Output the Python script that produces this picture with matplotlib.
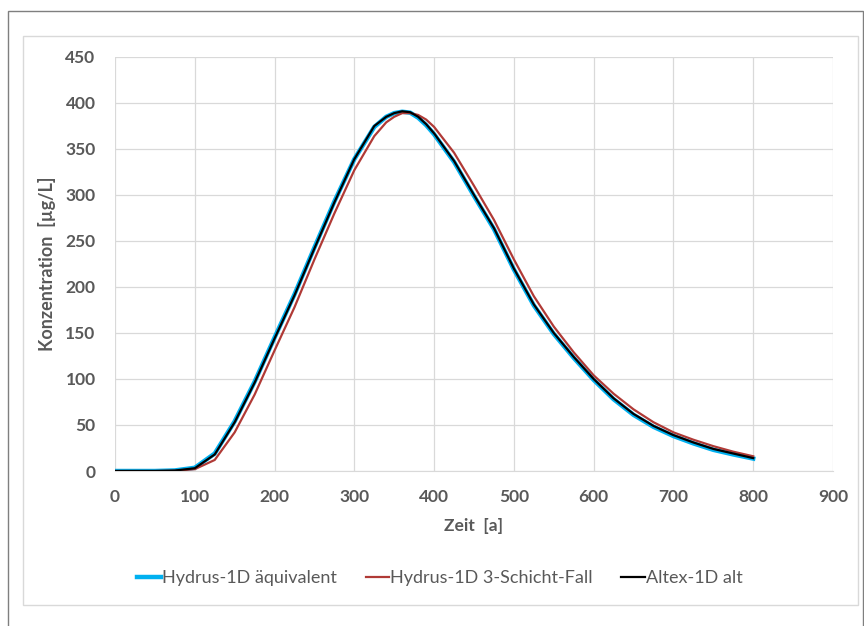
import matplotlib.pyplot as plt
from matplotlib.patches import Rectangle

# time axis [a]
t = [0, 50, 75, 100, 125, 150, 175, 200, 225, 250, 275, 300, 325, 340, 350, 360, 370,
     380, 390, 400, 425, 450, 475, 500, 525, 550, 575, 600, 625, 650, 675, 700, 725,
     750, 775, 800]

# concentrations [ug/L]
altex = [0, 0, 0.5, 3, 18, 53, 96, 144, 191, 242, 292, 339, 375, 385, 389, 391, 390,
         385, 377, 367, 337, 300, 264, 220, 181, 150, 124, 100, 79, 62, 49, 39, 31,
         24, 19, 14]
hydrus_aeq = [0, 0, 0.6, 3.5, 19, 54, 97, 145, 192, 243, 293, 339, 374, 385, 389, 390.5, 389.5,
              384, 376, 366, 336, 299, 263, 219, 180, 149, 123, 99, 78, 61, 48, 38, 30,
              23, 18, 13.5]
hydrus_3s = [0, 0, 0.2, 2, 12, 42, 83, 131, 178, 230, 280, 327, 364, 379, 385, 389, 389,
             387, 382, 374, 346, 310, 273, 230, 190, 157, 129, 104, 84, 67, 53, 42, 34,
             27, 21, 16]

plt.rcParams['font.family'] = ['Lato', 'DejaVu Sans']
grey = '#595959'

fig = plt.figure(figsize=(8.64, 6.26), dpi=100)
ax = fig.add_axes([115 / 864, 1 - 471 / 626, 718 / 864, 414 / 626])

ax.plot(t, hydrus_aeq, color='#00b0f0', lw=3.2, label='Hydrus-1D äquivalent', zorder=3)
ax.plot(t, hydrus_3s, color='#b03a36', lw=1.6, label='Hydrus-1D 3-Schicht-Fall', zorder=4)
ax.plot(t, altex, color='black', lw=1.6, label='Altex-1D alt', zorder=5)

ax.set_xlim(0, 900)
ax.set_ylim(0, 450)
ax.set_xticks(range(0, 901, 100))
ax.set_yticks(range(0, 451, 50))
ax.grid(True, color='#d9d9d9', lw=0.9)
ax.set_axisbelow(True)
for s in ['top', 'right', 'left']:
    ax.spines[s].set_visible(False)
ax.spines['bottom'].set_color('#d9d9d9')
ax.tick_params(length=0, labelsize=12.5, colors=grey)
ax.tick_params(axis='y', pad=14)
ax.tick_params(axis='x', pad=13)
for lab in ax.get_xticklabels() + ax.get_yticklabels():
    lab.set_fontweight('bold')

ax.set_xlabel('Zeit  [a]', fontsize=12.5, fontweight='bold', color=grey, labelpad=9)
ax.set_ylabel('Konzentration  [µg/L]', fontsize=13, fontweight='bold', color=grey, labelpad=7)

leg = fig.legend(loc='center', bbox_to_anchor=(440 / 864, 1 - 578 / 626), ncol=3,
                 frameon=False, fontsize=13, handlelength=1.3, handletextpad=0.05,
                 columnspacing=1.6)
for txt in leg.get_texts():
    txt.set_color(grey)

# chart frame and outer border
fig.patches.append(Rectangle((23 / 864, 1 - 605 / 626), 835 / 864, 569 / 626,
                             transform=fig.transFigure, fill=False, ec='#d9d9d9', lw=1))
fig.patches.append(Rectangle((8 / 864, -0.01), 0.99, 1 - 11 / 626 + 0.01,
                             transform=fig.transFigure, fill=False, ec='#7f7f7f', lw=1))

fig.savefig('out.png', dpi=100)
